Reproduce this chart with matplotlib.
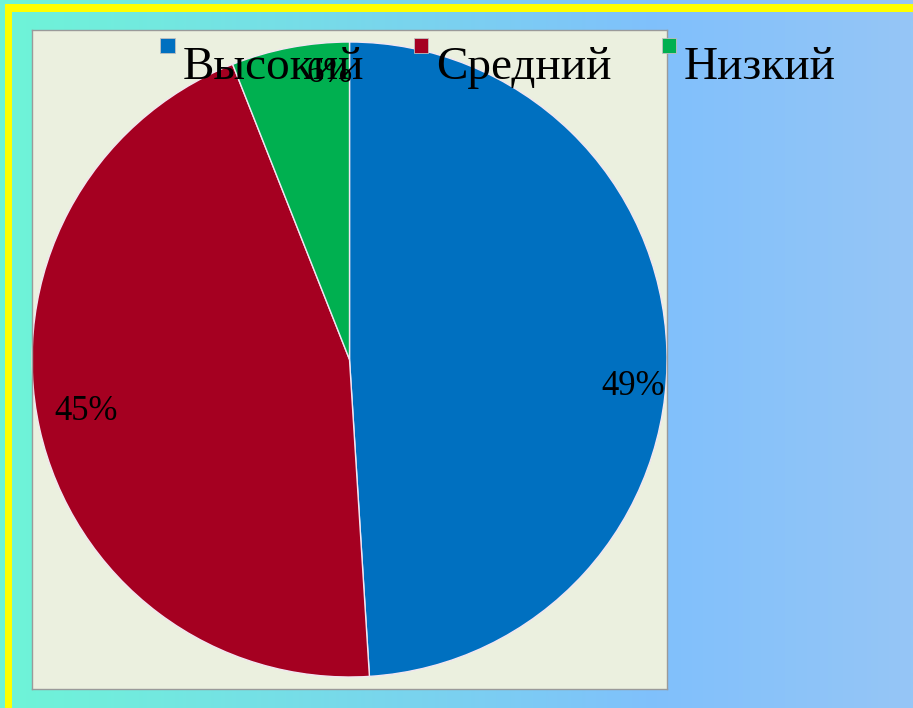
import numpy as np
import matplotlib
matplotlib.use("Agg")
import matplotlib.pyplot as plt
from matplotlib.patches import Rectangle
from matplotlib.legend_handler import HandlerPatch
from matplotlib.colors import LinearSegmentedColormap
import matplotlib.transforms as mtransforms

categories = ["Высокий", "Средний", "Низкий"]
values = [49, 45, 6]
colors = ["#0070C0", "#A50021", "#00B050"]
label_offsets_px = [(-2, -36), (15, 10), (34, 5)]

W, H = 913, 708
fig = plt.figure(figsize=(W / 100, H / 100), dpi=100)

# background gradient
bg = fig.add_axes([0, 0, 1, 1])
bg.set_axis_off()
cmap = LinearSegmentedColormap.from_list(
    "bg", [(0.0, (110/255, 245/255, 215/255)),
           (0.72, (128/255, 192/255, 252/255)),
           (1.0, (150/255, 198/255, 246/255))])
grad = np.linspace(0, 1, 512).reshape(1, -1)
bg.imshow(grad, aspect="auto", cmap=cmap, extent=[0, 1, 0, 1])
bg.set_xlim(0, 1)
bg.set_ylim(0, 1)
# yellow frame (top and left)
bg.add_patch(Rectangle((5 / W, 0), 7 / W, 1 - 4 / H, color="#FFFF00", lw=0))
bg.add_patch(Rectangle((5 / W, 1 - 12 / H), 1 - 5 / W, 8 / H, color="#FFFF00", lw=0))

# plot area
l, r, t, b = 32, 667, 30, 689
ax = fig.add_axes([l / W, 1 - b / H, (r - l) / W, (b - t) / H])

wedges, texts, autotexts = ax.pie(
    values, colors=colors, startangle=90, counterclock=False,
    autopct="%1.0f%%", pctdistance=0.9, radius=1.0,
    wedgeprops=dict(edgecolor="#F2E6F2", linewidth=1.0),
    textprops=dict(family="Liberation Serif", fontsize=25, color="#000000"))
ax.set_frame_on(True)
ax.set_facecolor("#EBF0DF")
for s in ax.spines.values():
    s.set_edgecolor("#9A9A9A")
    s.set_linewidth(1.0)
ax.set_xticks([])
ax.set_yticks([])
ax.set_xlim(-1.0, 1.0)
hh = (b - t) / (r - l)
ax.set_ylim(-hh, hh)
ax.set_aspect("equal")
for at, (dx, dy) in zip(autotexts, label_offsets_px):
    at.set_transform(at.get_transform() + mtransforms.ScaledTranslation(dx / 100, dy / 100, fig.dpi_scale_trans))


class SquareHandler(HandlerPatch):
    def create_artists(self, legend, orig_handle, xdescent, ydescent, width, height, fontsize, trans):
        s = 14.5 * 72 / 100
        p = Rectangle((-xdescent, -ydescent + height * 0.5 + 7), s, s,
                      facecolor=orig_handle.get_facecolor(), edgecolor="#C0C0C0", lw=0.6)
        p.set_transform(trans)
        return [p]


handles = [Rectangle((0, 0), 1, 1, facecolor=c) for c in colors]
leg = fig.legend(handles, categories, loc="upper left",
                 bbox_to_anchor=(160 / W, 1 - 46 / H), ncol=3, frameon=False,
                 prop=dict(family="Liberation Serif", size=34),
                 handlelength=0.32, handletextpad=0.15, columnspacing=1.06,
                 borderpad=0, borderaxespad=0,
                 handler_map={Rectangle: SquareHandler()})

fig.savefig("out.png", dpi=100)
